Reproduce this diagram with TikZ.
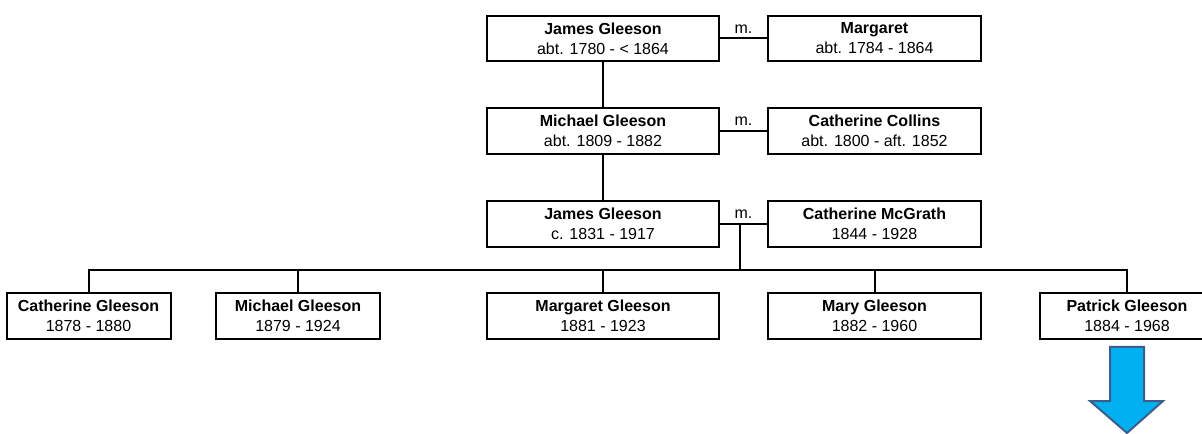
\documentclass[tikz,border=0pt]{standalone}
\usepackage{fontspec}
\setmainfont{Liberation Sans}
\usepackage{xcolor}
\definecolor{arrowfill}{HTML}{00B0F0}
\definecolor{arrowline}{HTML}{3B5E8C}

\begin{document}
\begin{tikzpicture}[x=0.75pt, y=-0.75pt, line width=1.5pt,
        person/.style={draw, rectangle, align=center, inner sep=0pt,
            minimum height=34pt, font=\fontsize{12}{15}\selectfont},
        wide/.style={person, minimum width=174pt},
        spouse/.style={person, minimum width=160pt},
        child/.style={person, minimum width=123pt}]
        \useasboundingbox (0,0) rectangle (1202,434);

        \node [wide] (jg1) at (603,38.5) {\textbf{James Gleeson}\\abt. 1780 - < 1864};
        \node [spouse] (mar) at (874.5,38.5) {\textbf{Margaret}\\abt. 1784 - 1864};
        \node [wide] (mg2) at (603,131) {\textbf{Michael Gleeson}\\abt. 1809 - 1882};
        \node [spouse] (cc) at (874.5,131) {\textbf{Catherine Collins}\\abt. 1800 - aft. 1852};
        \node [wide] (jg3) at (603,224) {\textbf{James Gleeson}\\c. 1831 - 1917};
        \node [spouse] (cm) at (874.5,224) {\textbf{Catherine McGrath}\\1844 - 1928};

        \node [child] (cg) at (88.5,316) {\textbf{Catherine Gleeson}\\1878 - 1880};
        \node [child] (mg) at (298,316) {\textbf{Michael Gleeson}\\1879 - 1924};
        \node [wide] (mtg) at (603,316) {\textbf{Margaret Gleeson}\\1881 - 1923};
        \node [spouse] (my) at (874.5,316) {\textbf{Mary Gleeson}\\1882 - 1960};
        \node [child, minimum width=130pt] (pg) at (1127,316) {\textbf{Patrick Gleeson}\\1884 - 1968};

        % marriages
        \draw (jg1) -- node [above, font=\fontsize{12}{15}\selectfont] (m1) {m.} (mar);
        \draw (mg2) -- node [above, font=\fontsize{12}{15}\selectfont] (m2) {m.} (cc);
        \draw (jg3) -- node [above, font=\fontsize{12}{15}\selectfont] (m3) {m.} (cm);

        % descent
        \draw (jg1) -- (mg2);
        \draw (mg2) -- (jg3);
        \coordinate (fam) at (740,224);
        \coordinate (bar) at (740,270);
        \draw (fam) -- (bar);
        \draw (cg.north) |- (bar) -| (pg.north);
        \draw (mg.north) -- (mg.north |- bar);
        \draw (mtg.north) -- (mtg.north |- bar);
        \draw (my.north) -- (my.north |- bar);

        % continued
        \draw [arrowline, fill=arrowfill, line join=miter]
            (1110,347) -- (1144,347) -- (1144,401) -- (1163,401) -- (1127,433)
            -- (1090,401) -- (1110,401) -- cycle;
    \end{tikzpicture}
\end{document}
